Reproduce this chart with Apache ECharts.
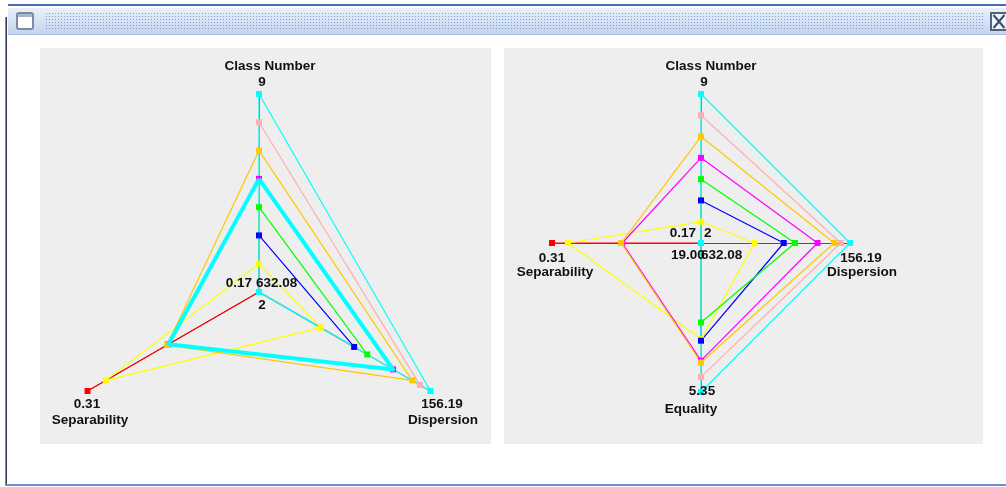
<!DOCTYPE html>
<html>
<head>
<meta charset="utf-8">
<script src="https://cdn.jsdelivr.net/npm/echarts@6/dist/echarts.min.js"></script>
<style>
  html, body { margin: 0; padding: 0; background: #fff; }
  #win { position: relative; width: 1006px; height: 487px; overflow: hidden; background: #fff; }
  .topline { position: absolute; left: 8px; top: 4px; right: 0; height: 2px; background: #4a6db3; }
  .titlebar { position: absolute; left: 8px; top: 8px; right: 0; height: 26px;
    background: linear-gradient(#e9f0fa, #d3e0f3 60%, #c3d4ee); border-bottom: 1px solid #a9bfe3; }
  .dots { position: absolute; left: 45px; width: 938px; top: 12px; height: 18px;
    background-image: radial-gradient(#7f9bd0 40%, transparent 45%); background-size: 3px 3px; }
  .icon { position: absolute; left: 16px; top: 12px; width: 14px; height: 14px;
    border: 2px solid #7b8ba3; border-radius: 3px; background: #fff; }
  .icon:before { content: ''; position: absolute; left: 0; right: 0; top: 0; height: 3px; background: #a8b6c9; }
  .close { position: absolute; left: 990px; top: 12px; width: 14px; height: 15px;
    border: 2px solid #4f627f; background: #eef3fb; }
  .close:before, .close:after { content: ''; position: absolute; left: 6px; top: -1px; width: 2px; height: 17px;
    background: #3c4c66; transform: rotate(40deg); }
  .close:after { transform: rotate(-40deg); }
  .leftline { position: absolute; left: 5px; top: 17px; width: 1px; bottom: 2px; background: #6d8fcf; }
  .leftline2 { position: absolute; left: 6px; top: 17px; width: 1px; bottom: 2px; background: #2f3a4d; }
  .bottomline { position: absolute; left: 5px; right: 0; top: 484px; height: 2px; background: #6d8fcf; }
  #chart { position: absolute; left: 0; top: 0; width: 1006px; height: 487px; }
</style>
</head>
<body>
<div id="win">
  <div class="topline"></div>
  <div class="titlebar"></div>
  <div class="dots"></div>
  <div class="icon"></div>
  <div class="close"></div>
  <div class="leftline"></div>
  <div class="leftline2"></div>
  <div class="bottomline"></div>
  <div id="chart"></div>
</div>
<script>
// ---------- data (one entry per clustering, k = 2..9) ----------
const clusterNames = ['2', '3', '4', '5', '6', '7', '8', '9']
const classNumber = [2, 3, 4, 5, 6, 7, 8, 9]
const separability = [0.31, 0.295, 0.17, 0.17, 0.244, 0.245, 0.17, 0.17]
const dispersion = [632.08, 460.8, 368.0, 331.8, 260.0, 207.0, 185.7, 156.19]
const equality = [19.00, 10.2, 10.05, 11.72, 8.22, 8.05, 6.73, 5.35]

// axis ranges: [value at centre, value at outer end]
const classNumberRange = [2, 9]
const separabilityRange = [0.17, 0.31]
const dispersionRange = [632.08, 156.19]
const equalityRange = [19.00, 5.35]

// the clustering drawn highlighted on the left chart
const highlightIndex = 4

const seriesColors = ['#ff0000', '#ffff00', '#0000ff', '#00ff00', '#ff00ff', '#ffc800', '#ffafaf', '#00ffff']

// ---------- helpers ----------
// radar only maps min->centre, so reversed axes get mirrored values
function axisValue(v, range) {
  return range[0] <= range[1] ? v : range[0] + range[1] - v
}
function indicator(name, range) {
  return { name: name, min: Math.min(range[0], range[1]), max: Math.max(range[0], range[1]) }
}
function fmtInt(v) { return String(v) }
function fmt2(v) { return v.toFixed(2) }

const leftAxes = [
  { name: 'Class Number', range: classNumberRange, values: classNumber },
  { name: 'Separability', range: separabilityRange, values: separability },
  { name: 'Dispersion', range: dispersionRange, values: dispersion }
]
const rightAxes = [
  { name: 'Class Number', range: classNumberRange, values: classNumber },
  { name: 'Separability', range: separabilityRange, values: separability },
  { name: 'Equality', range: equalityRange, values: equality },
  { name: 'Dispersion', range: dispersionRange, values: dispersion }
]

function radarItems(axes) {
  return clusterNames.map((n, i) => ({
    name: n,
    value: axes.map(a => axisValue(a.values[i], a.range)),
    lineStyle: { color: seriesColors[i], width: 1.2 },
    itemStyle: { color: seriesColors[i] }
  }))
}

function radarBase(center, radius, axes) {
  return {
    center: center,
    radius: radius,
    startAngle: 90,
    shape: 'polygon',
    splitNumber: 1,
    indicator: axes.map(a => indicator(a.name, a.range)),
    axisName: { show: false },
    splitLine: { show: false },
    splitArea: { show: false },
    axisTick: { show: false },
    axisLabel: { show: false },
    axisLine: { lineStyle: { color: '#555', width: 1 } }
  }
}

// ---------- labels ----------
const font = 'bold 13.5px "Liberation Sans", Arial, sans-serif'
function label(text, x, y, align) {
  return {
    type: 'text', x: x, y: y, z: 10,
    style: { text: text, font: font, fill: '#111', align: align || 'center', verticalAlign: 'middle' }
  }
}

let myChart = echarts.init(document.querySelector('#chart'))
let option = {
  animation: false,
  graphic: [
    { type: 'rect', z: -10, shape: { x: 40, y: 48, width: 451, height: 396 }, style: { fill: '#eeeeee' } },
    { type: 'rect', z: -10, shape: { x: 504, y: 48, width: 479, height: 396 }, style: { fill: '#eeeeee' } },
    // left chart
    label('Class Number', 270, 66),
    label(fmtInt(classNumberRange[1]), 262, 82),
    label(fmt2(separabilityRange[0]), 252, 283, 'right'),
    label(fmt2(dispersionRange[0]), 256, 283, 'left'),
    label(fmtInt(classNumberRange[0]), 262, 305),
    label(fmt2(separabilityRange[1]), 87, 404),
    label('Separability', 90, 420),
    label(fmt2(dispersionRange[1]), 442, 404),
    label('Dispersion', 443, 420),
    // right chart
    label('Class Number', 711, 66),
    label(fmtInt(classNumberRange[1]), 704, 82),
    label(fmt2(separabilityRange[0]), 696, 233, 'right'),
    label(fmtInt(classNumberRange[0]), 704, 233, 'left'),
    label(fmt2(equalityRange[0]), 671, 255, 'left'),
    label(fmt2(dispersionRange[0]), 701, 255, 'left'),
    label(fmt2(separabilityRange[1]), 552, 258),
    label('Separability', 555, 272),
    label(fmt2(dispersionRange[1]), 861, 258),
    label('Dispersion', 862, 272),
    label(fmt2(equalityRange[1]), 702, 391),
    label('Equality', 691, 409)
  ],
  radar: [
    radarBase([259, 292], 198, leftAxes),
    radarBase([701, 243], 149, rightAxes)
  ],
  series: [
    {
      type: 'radar', radarIndex: 0, z: 2,
      symbol: 'rect', symbolSize: 6,
      data: radarItems(leftAxes)
    },
    {
      type: 'radar', radarIndex: 0, z: 3,
      symbol: 'none',
      data: [{
        name: clusterNames[highlightIndex],
        value: leftAxes.map(a => axisValue(a.values[highlightIndex], a.range)),
        lineStyle: { color: '#00ffff', width: 4 }
      }]
    },
    {
      type: 'radar', radarIndex: 1, z: 2,
      symbol: 'rect', symbolSize: 6,
      data: radarItems(rightAxes)
    }
  ]
}
myChart.setOption(option)
</script>
</body>
</html>
